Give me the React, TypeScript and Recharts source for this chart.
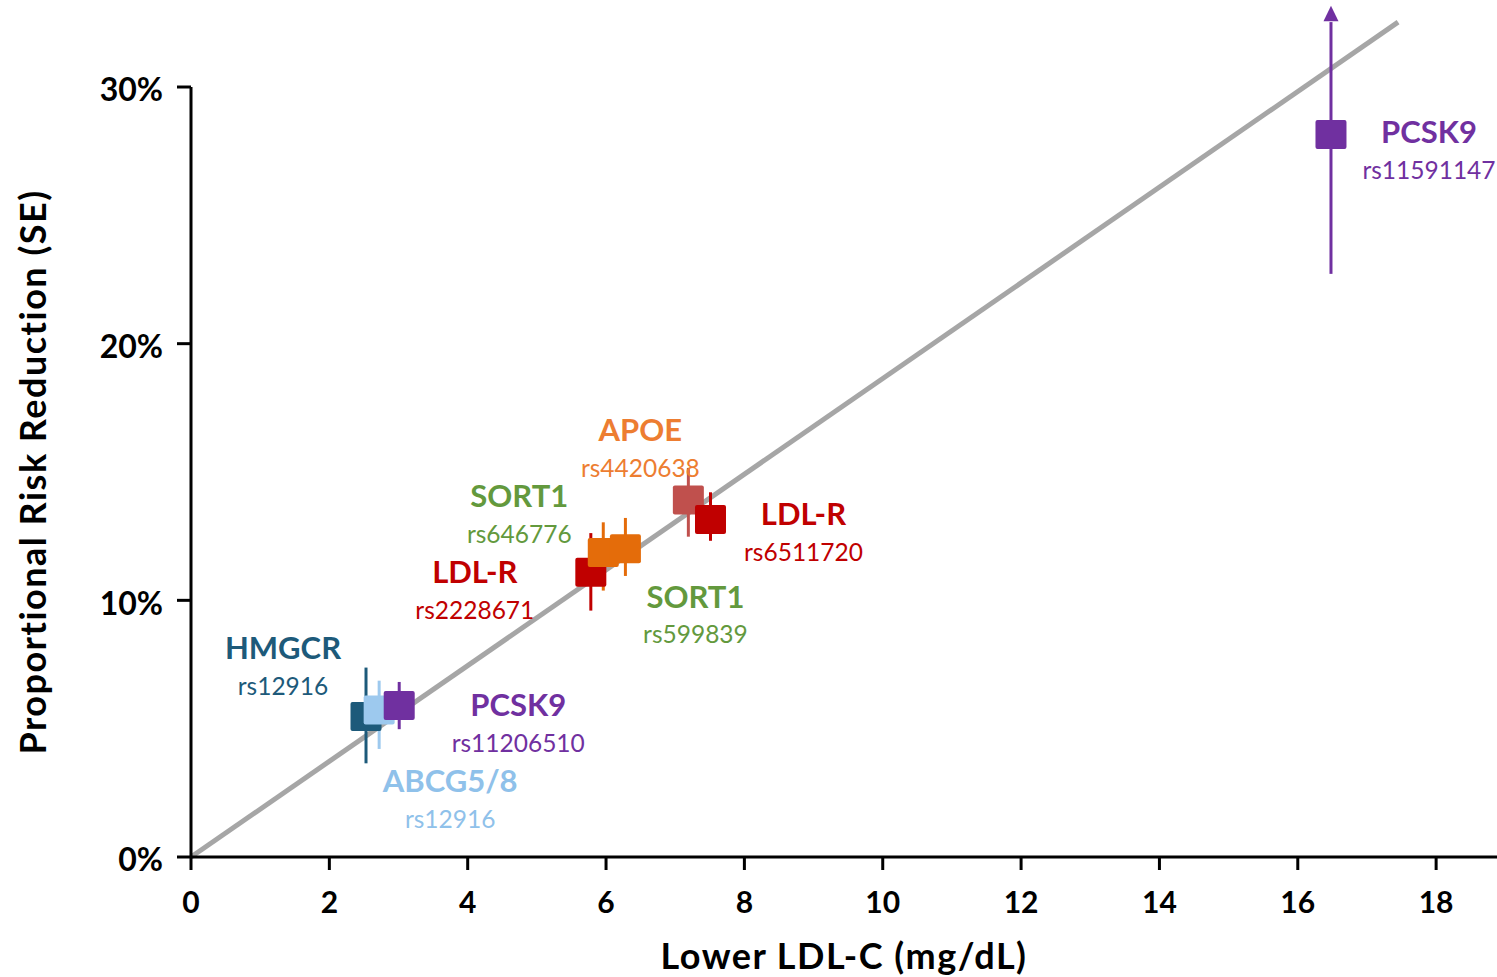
import { ScatterChart, Scatter, XAxis, YAxis, ErrorBar, ReferenceLine } from "recharts"

const GENES = ["HMGCR", "ABCG5/8", "PCSK9", "LDL-R", "SORT1", "SORT1", "APOE", "LDL-R", "PCSK9"]
const SNPS = ["rs12916", "rs12916", "rs11206510", "rs2228671", "rs646776", "rs599839", "rs4420638", "rs6511720", "rs11591147"]
// lower LDL-C (mg/dL) per allele
const LDL_LOWER = [2.53, 2.72, 3.01, 5.78, 5.96, 6.28, 7.19, 7.51, 16.48]
// proportional risk reduction
const RISK_REDUCTION = [0.0547, 0.0573, 0.059, 0.1109, 0.1186, 0.1201, 0.1391, 0.1315, 0.2815]
const SE_LOW = [0.0182, 0.0152, 0.0092, 0.0149, 0.0148, 0.0106, 0.0143, 0.0083, 0.0543]
const SE_HIGH = [0.0191, 0.0114, 0.0092, 0.0153, 0.0118, 0.012, 0.0125, 0.0106, 0.0438]
// upper bar of rs11591147 runs off the scale
const TRUNC_X = [16.48]
const TRUNC_Y = [0.3285]
// fitted line through origin
const FIT_X = [0, 17.45]
const FIT_Y = [0, 0.3253]

const X_TICKS = [0, 2, 4, 6, 8, 10, 12, 14, 16, 18]
const Y_TICKS = [0, 0.1, 0.2, 0.3]

const MARKER_COLORS = ["#1D5A7A", "#9DC9EE", "#7030A0", "#C00000", "#E46C0A", "#E46C0A", "#C0504D", "#C00000", "#7030A0"]
const LABEL_COLORS = ["#1D5A7A", "#8FC1EA", "#7030A0", "#C00000", "#63993D", "#63993D", "#ED7D31", "#C00000", "#7030A0"]
// label placement relative to the marker (px)
const LABEL_DX = [-83, 71, 119, -116, -84, 70, -48, 93, 98]
const LABEL_DY = [-68, 71, 0, 0, -56, 48, -70, -5, -2]

const FONT = "Lato, 'Open Sans', sans-serif"

const rows = GENES.map((gene, i) => ({
  gene,
  snp: SNPS[i],
  x: LDL_LOWER[i],
  y: RISK_REDUCTION[i],
  err: [SE_LOW[i], SE_HIGH[i]],
}))

const truncRows = TRUNC_X.map((x, i) => ({ x, y: TRUNC_Y[i] }))

function Marker(props: any) {
  const { cx, cy, i } = props
  const lx = cx + LABEL_DX[i]
  const ly = cy + LABEL_DY[i]
  return (
    <g>
      <rect x={cx - 15.5} y={cy - 14.5} width={31} height={29} rx={2} fill={MARKER_COLORS[i]} />
      <text x={lx} y={ly} dy="0.35em" textAnchor="middle" fontSize={31} fontWeight={700} fill={LABEL_COLORS[i]} fontFamily={FONT}>
        {GENES[i]}
      </text>
      <text x={lx} y={ly + 38} dy="0.35em" textAnchor="middle" fontSize={24.5} fill={LABEL_COLORS[i]} fontFamily={FONT}>
        {SNPS[i]}
      </text>
    </g>
  )
}

function Arrow(props: any) {
  const { cx, cy } = props
  return <polygon points={`${cx},${cy - 8} ${cx - 7.5},${cy + 7.5} ${cx + 7.5},${cy + 7.5}`} fill="#7030A0" />
}

function YTick(props: any) {
  const { x, y, payload } = props
  return (
    <text x={x} y={y + 3} dy="0.35em" textAnchor="end" fontSize={32} fontWeight={700} fill="#000" fontFamily={FONT}>
      {`${Math.round(payload.value * 100)}%`}
    </text>
  )
}

export default function App() {
  return (
    <div style={{ position: "absolute", left: 0, top: 0 }}>
      <ScatterChart width={1497} height={977} margin={{ top: 0, right: 0, bottom: 0, left: 71 }} style={{ fontFamily: FONT }}>
        <XAxis
          type="number"
          dataKey="x"
          domain={[0, 18.88]}
          ticks={X_TICKS}
          height={120}
          stroke="#000"
          strokeWidth={3}
          tickSize={13}
          tickMargin={22}
          tick={{ fontSize: 30, fontWeight: 700, fill: "#000", fontFamily: FONT }}
          label={{
            content: () => (
              <text
                x={844}
                y={956}
                dy="0.35em"
                textAnchor="middle"
                fontSize={36}
                fontWeight={700}
                letterSpacing={1.5}
                fill="#000"
                fontFamily={FONT}
              >
                Lower LDL-C (mg/dL)
              </text>
            ),
          }}
        />
        <YAxis
          type="number"
          dataKey="y"
          domain={[0, 0.3339]}
          ticks={Y_TICKS}
          width={120}
          axisLine={false}
          tickLine={{ stroke: "#000", strokeWidth: 3 }}
          tickSize={14}
          tickMargin={14}
          tick={<YTick />}
          label={{
            content: () => (
              <text
                x={33}
                y={472}
                dy="0.35em"
                textAnchor="middle"
                transform="rotate(-90 33 472)"
                fontSize={36}
                fontWeight={700}
                letterSpacing={1.5}
                fill="#000"
                fontFamily={FONT}
              >
                Proportional Risk Reduction (SE)
              </text>
            ),
          }}
        />
        <ReferenceLine
          segment={[{ x: FIT_X[0], y: FIT_Y[0] }, { x: FIT_X[1], y: FIT_Y[1] }]}
          stroke="#A6A6A6"
          strokeWidth={5}
          ifOverflow="visible"
        />
        <ReferenceLine
          segment={[{ x: 0, y: 0 }, { x: 0, y: Y_TICKS[Y_TICKS.length - 1] }]}
          stroke="#000"
          strokeWidth={3}
          ifOverflow="visible"
        />
        {rows.map((row, i) => (
          <Scatter
            key={i}
            data={[row]}
            dataKey="y"
            fill={MARKER_COLORS[i]}
            isAnimationActive={false}
            shape={(p: any) => <Marker {...p} i={i} />}
          >
            <ErrorBar dataKey="err" direction="y" width={0} stroke={MARKER_COLORS[i]} strokeWidth={3} />
          </Scatter>
        ))}
        <Scatter data={truncRows} dataKey="y" fill="#7030A0" isAnimationActive={false} shape={(p: any) => <Arrow {...p} />} />
      </ScatterChart>
    </div>
  )
}
